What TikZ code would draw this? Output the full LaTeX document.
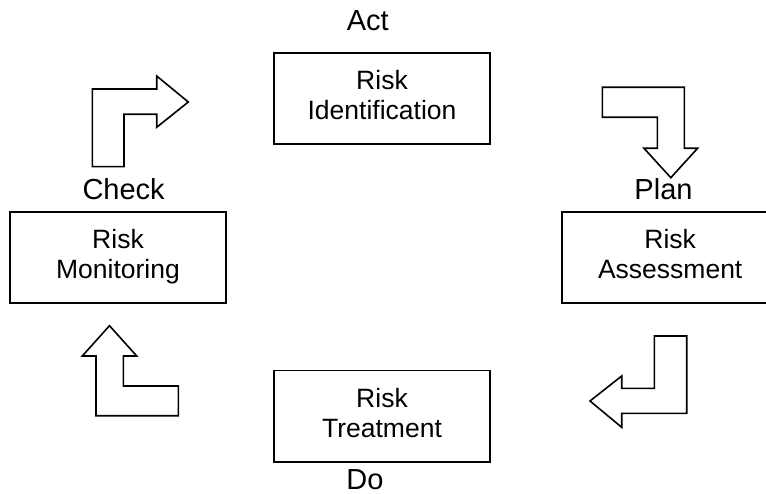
\documentclass[tikz,border=0pt]{standalone}
\usepackage{fontspec}
\setmainfont{Liberation Sans}
\begin{document}
\begin{tikzpicture}[x=1pt,y=-1pt,
  box/.style={draw, line width=1.8pt, minimum width=216.5pt, minimum height=91.3pt, inner sep=0pt},
  boxtext/.style={font=\fontsize{26.5}{30}\selectfont, align=center, anchor=base, inner sep=0pt},
  phase/.style={font=\fontsize{29}{32}\selectfont, anchor=base, inner sep=0pt},
  turn/.style={draw, line width=1.6pt, line join=miter}]
\useasboundingbox (0,0) rectangle (766,494);
\fill[white] (0,0) rectangle (766,494);
\clip (0,0) rectangle (766,494);

% the four stages of the cycle
\node[box] (ident)   at (382,98.4)   {};
\node[box] (assess)  at (670.2,257.4) {};
\node[box] (treat)   at (382,416.2)  {};
\node[box] (monitor) at (118,257.4)  {};

% two-line captions, placed by the baseline of their last line
\node[boxtext] (identtxt)   at (382,119.3)   {Risk\\Identification};
\node[boxtext] (assesstxt)  at (670.2,278.3) {Risk\\Assessment};
\node[boxtext] (treattxt)   at (382,437)     {Risk\\Treatment};
\node[boxtext] (monitortxt) at (118,278.3)   {Risk\\Monitoring};

% PDCA phase labels
\node[phase] (act)   at (367.8,30.7) {Act};
\node[phase] (plan)  at (663.5,200)  {Plan};
\node[phase] (do)    at (365,489)    {Do};
\node[phase] (check) at (123.6,200)  {Check};

% bent block arrows between the stages
\draw[turn] (92.3,166.7) -- (92.3,89) -- (156.7,89) -- (156.7,76) -- (188.3,102)
  -- (156.7,127.3) -- (156.7,114.3) -- (124,114.3) -- (124,166.7) -- cycle;
\draw[turn] (602.3,87.3) -- (684.3,87.3) -- (684.3,148.3) -- (697.6,148.3)
  -- (670.8,177.7) -- (644,148.3) -- (657.3,148.3) -- (657.3,117.3) -- (602.3,117.3) -- cycle;
\draw[turn] (654.3,336) -- (686.7,336) -- (686.7,413.3) -- (621.7,413.3) -- (621.7,427.3)
  -- (590,401) -- (621.7,376) -- (621.7,388.3) -- (654.3,388.3) -- cycle;
\draw[turn] (109.5,325.7) -- (136.7,356) -- (123.3,356) -- (123.3,386) -- (178.3,386)
  -- (178.3,415.7) -- (96,415.7) -- (96,356) -- (82.3,356) -- cycle;
\end{tikzpicture}
\end{document}
